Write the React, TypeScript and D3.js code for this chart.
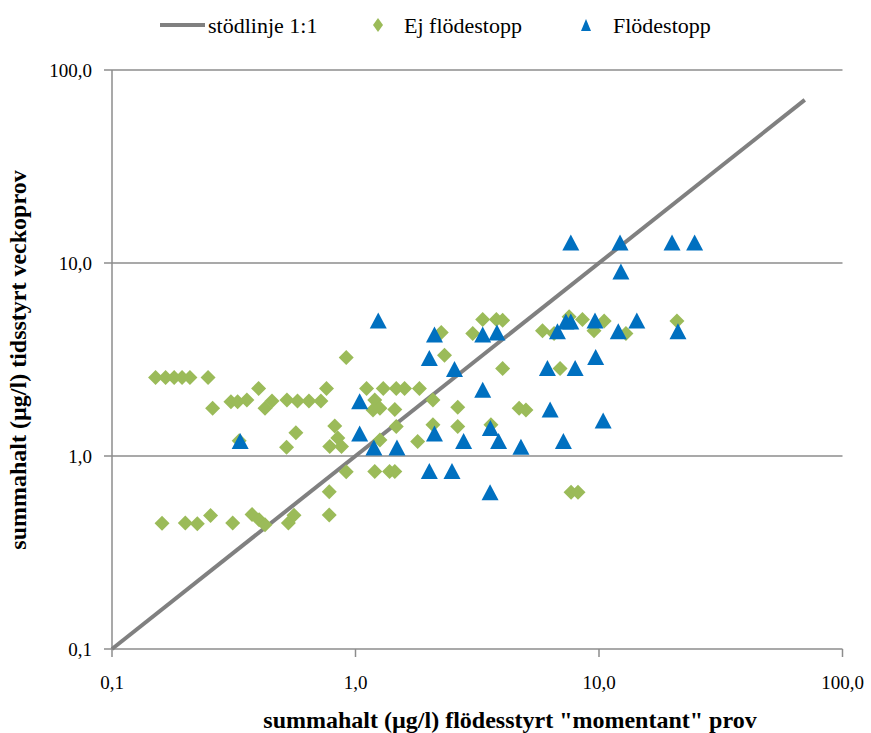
import React from "react";
import * as d3 from "d3";

// "Ej flödestopp" (green diamonds): x = flow-controlled, y = time-controlled
const ejX = [0.151, 0.166, 0.180, 0.194, 0.209, 0.248, 0.40, 0.259, 0.308, 0.328, 0.358, 0.425, 0.454, 0.523, 0.578, 0.644, 0.721, 0.760, 0.916, 0.569, 0.521, 0.333,
  0.1605, 0.200, 0.224, 0.254, 0.313, 0.376, 0.402, 0.425, 0.530, 0.559, 0.780, 0.780, 0.916, 0.822, 0.846, 0.784, 0.876,
  1.11, 1.30, 1.47, 1.59, 1.83, 1.20, 1.26, 1.18, 1.45, 2.08, 2.63, 2.25, 2.32, 3.33, 3.79, 3.03, 4.02,
  1.26, 1.47, 1.80, 2.08, 2.63, 3.60, 1.20, 1.38, 1.45,
  4.02, 5.86, 6.54, 7.54, 8.55, 10.5, 9.54, 12.9, 20.9, 6.92, 4.70, 5.01, 7.68, 8.20];
const ejY = [2.55, 2.55, 2.55, 2.55, 2.55, 2.55, 2.24, 1.77, 1.91, 1.91, 1.95, 1.77, 1.93, 1.95, 1.93, 1.93, 1.93, 2.24, 3.24, 1.32, 1.11, 1.20,
  0.448, 0.450, 0.445, 0.491, 0.449, 0.498, 0.467, 0.440, 0.449, 0.493, 0.495, 0.652, 0.829, 1.43, 1.24, 1.12, 1.12,
  2.24, 2.24, 2.24, 2.24, 2.24, 1.95, 1.77, 1.73, 1.74, 1.95, 1.79, 4.36, 3.33, 5.10, 5.10, 4.31, 2.84,
  1.21, 1.42, 1.19, 1.45, 1.42, 1.45, 0.83, 0.83, 0.83,
  5.05, 4.45, 4.31, 5.26, 5.10, 5.01, 4.45, 4.31, 5.01, 2.84, 1.77, 1.73, 0.649, 0.649];

// "Flödestopp" (blue triangles)
const fX = [0.336, 1.24, 2.11, 2.01, 2.55, 3.33, 3.81, 3.33, 1.04, 1.04, 1.19, 1.48, 2.11, 2.78, 3.58, 3.87, 2.01, 2.49, 3.57,
  4.78, 7.14, 6.30, 10.4, 6.14, 7.98, 9.69, 6.75, 7.31, 7.66, 9.63, 12.0, 14.3, 21.1, 7.66, 12.2, 19.95, 24.7, 12.3];
const fY = [1.19, 5.01, 4.23, 3.20, 2.81, 4.23, 4.34, 2.19, 1.91, 1.30, 1.10, 1.10, 1.30, 1.19, 1.39, 1.19, 0.83, 0.83, 0.646,
  1.11, 1.19, 1.73, 1.52, 2.84, 2.84, 3.24, 4.40, 4.95, 4.95, 5.01, 4.40, 5.01, 4.40, 12.7, 12.7, 12.7, 12.7, 8.98];

// 1:1 reference line
const refLine = [0.1, 70];

const tickValues = [0.1, 1, 10, 100];
const tickLabels = ["0,1", "1,0", "10,0", "100,0"];

const legendLabels = ["stödlinje 1:1", "Ej flödestopp", "Flödestopp"];
const xTitle = "summahalt (µg/l) flödesstyrt \"momentant\" prov";
const yTitle = "summahalt (µg/l) tidsstyrt veckoprov";

const GREEN = "#9BBB59";
const BLUE = "#0070C0";
const LINE = "#808080";
const GRID = "#8c8c8c";
const FONT = "'Liberation Serif', 'Times New Roman', serif";

export default function App() {
  const W = 871, H = 733;
  const x = d3.scaleLog().domain([0.1, 100]).range([112, 842.5]);
  const y = d3.scaleLog().domain([0.1, 100]).range([649, 70]);

  const diamond = "M0,-7.5L7.5,0L0,7.5L-7.5,0Z";
  const triangle = "M0,-8.5L8.5,7.5L-8.5,7.5Z";

  const line = d3.line<number>().x((d) => x(d)).y((d) => y(d));

  return (
    <svg width={W} height={H} style={{ display: "block", position: "absolute", left: 0, top: 0 }} fontFamily={FONT}>
      <rect width={W} height={H} fill="#fff" />
      {/* gridlines */}
      {tickValues.slice(1).map((t) => (
        <line key={"g" + t} x1={x(0.1) - 8} x2={x(100)} y1={y(t)} y2={y(t)} stroke={GRID} strokeWidth={1.5} />
      ))}
      {/* y axis */}
      <line x1={x(0.1)} x2={x(0.1)} y1={y(100)} y2={y(0.1)} stroke={GRID} strokeWidth={1.5} />
      <line x1={x(0.1) - 8} x2={x(0.1)} y1={y(0.1)} y2={y(0.1)} stroke={GRID} strokeWidth={1.5} />
      {/* x axis */}
      <line x1={x(0.1)} x2={x(100)} y1={y(0.1)} y2={y(0.1)} stroke={GRID} strokeWidth={1.5} />
      {tickValues.map((t) => (
        <line key={"xt" + t} x1={x(t)} x2={x(t)} y1={y(0.1)} y2={y(0.1) + 8} stroke={GRID} strokeWidth={1.5} />
      ))}
      {/* tick labels */}
      {tickValues.map((t, i) => (
        <text key={"yl" + t} x={x(0.1) - 20} y={y(t)} dy="0.35em" textAnchor="end" fontSize={19}>
          {tickLabels[i]}
        </text>
      ))}
      {tickValues.map((t, i) => (
        <text key={"xl" + t} x={x(t)} y={y(0.1) + 40} textAnchor="middle" fontSize={19}>
          {tickLabels[i]}
        </text>
      ))}
      {/* 1:1 line */}
      <path d={line(refLine) || ""} stroke={LINE} strokeWidth={4} fill="none" />
      {/* points */}
      {ejX.map((v, i) => (
        <path key={"e" + i} d={diamond} transform={`translate(${x(v)},${y(ejY[i])})`} fill={GREEN} />
      ))}
      {fX.map((v, i) => (
        <path key={"f" + i} d={triangle} transform={`translate(${x(v)},${y(fY[i])})`} fill={BLUE} />
      ))}
      {/* axis titles */}
      <text x={510} y={728} textAnchor="middle" fontSize={24} fontWeight="bold">{xTitle}</text>
      <text transform={`translate(26,${360}) rotate(-90)`} textAnchor="middle" fontSize={24} fontWeight="bold">{yTitle}</text>
      {/* legend */}
      <line x1={160} x2={205} y1={25} y2={25} stroke={LINE} strokeWidth={4} />
      <text x={208} y={25} dy="0.35em" fontSize={22}>{legendLabels[0]}</text>
      <path d="M0,-7L5,0L0,7L-5,0Z" transform="translate(378,25)" fill={GREEN} />
      <text x={404} y={25} dy="0.35em" fontSize={22}>{legendLabels[1]}</text>
      <path d="M0,-6L5,6L-5,6Z" transform="translate(586,25)" fill={BLUE} />
      <text x={613} y={25} dy="0.35em" fontSize={22}>{legendLabels[2]}</text>
    </svg>
  );
}
